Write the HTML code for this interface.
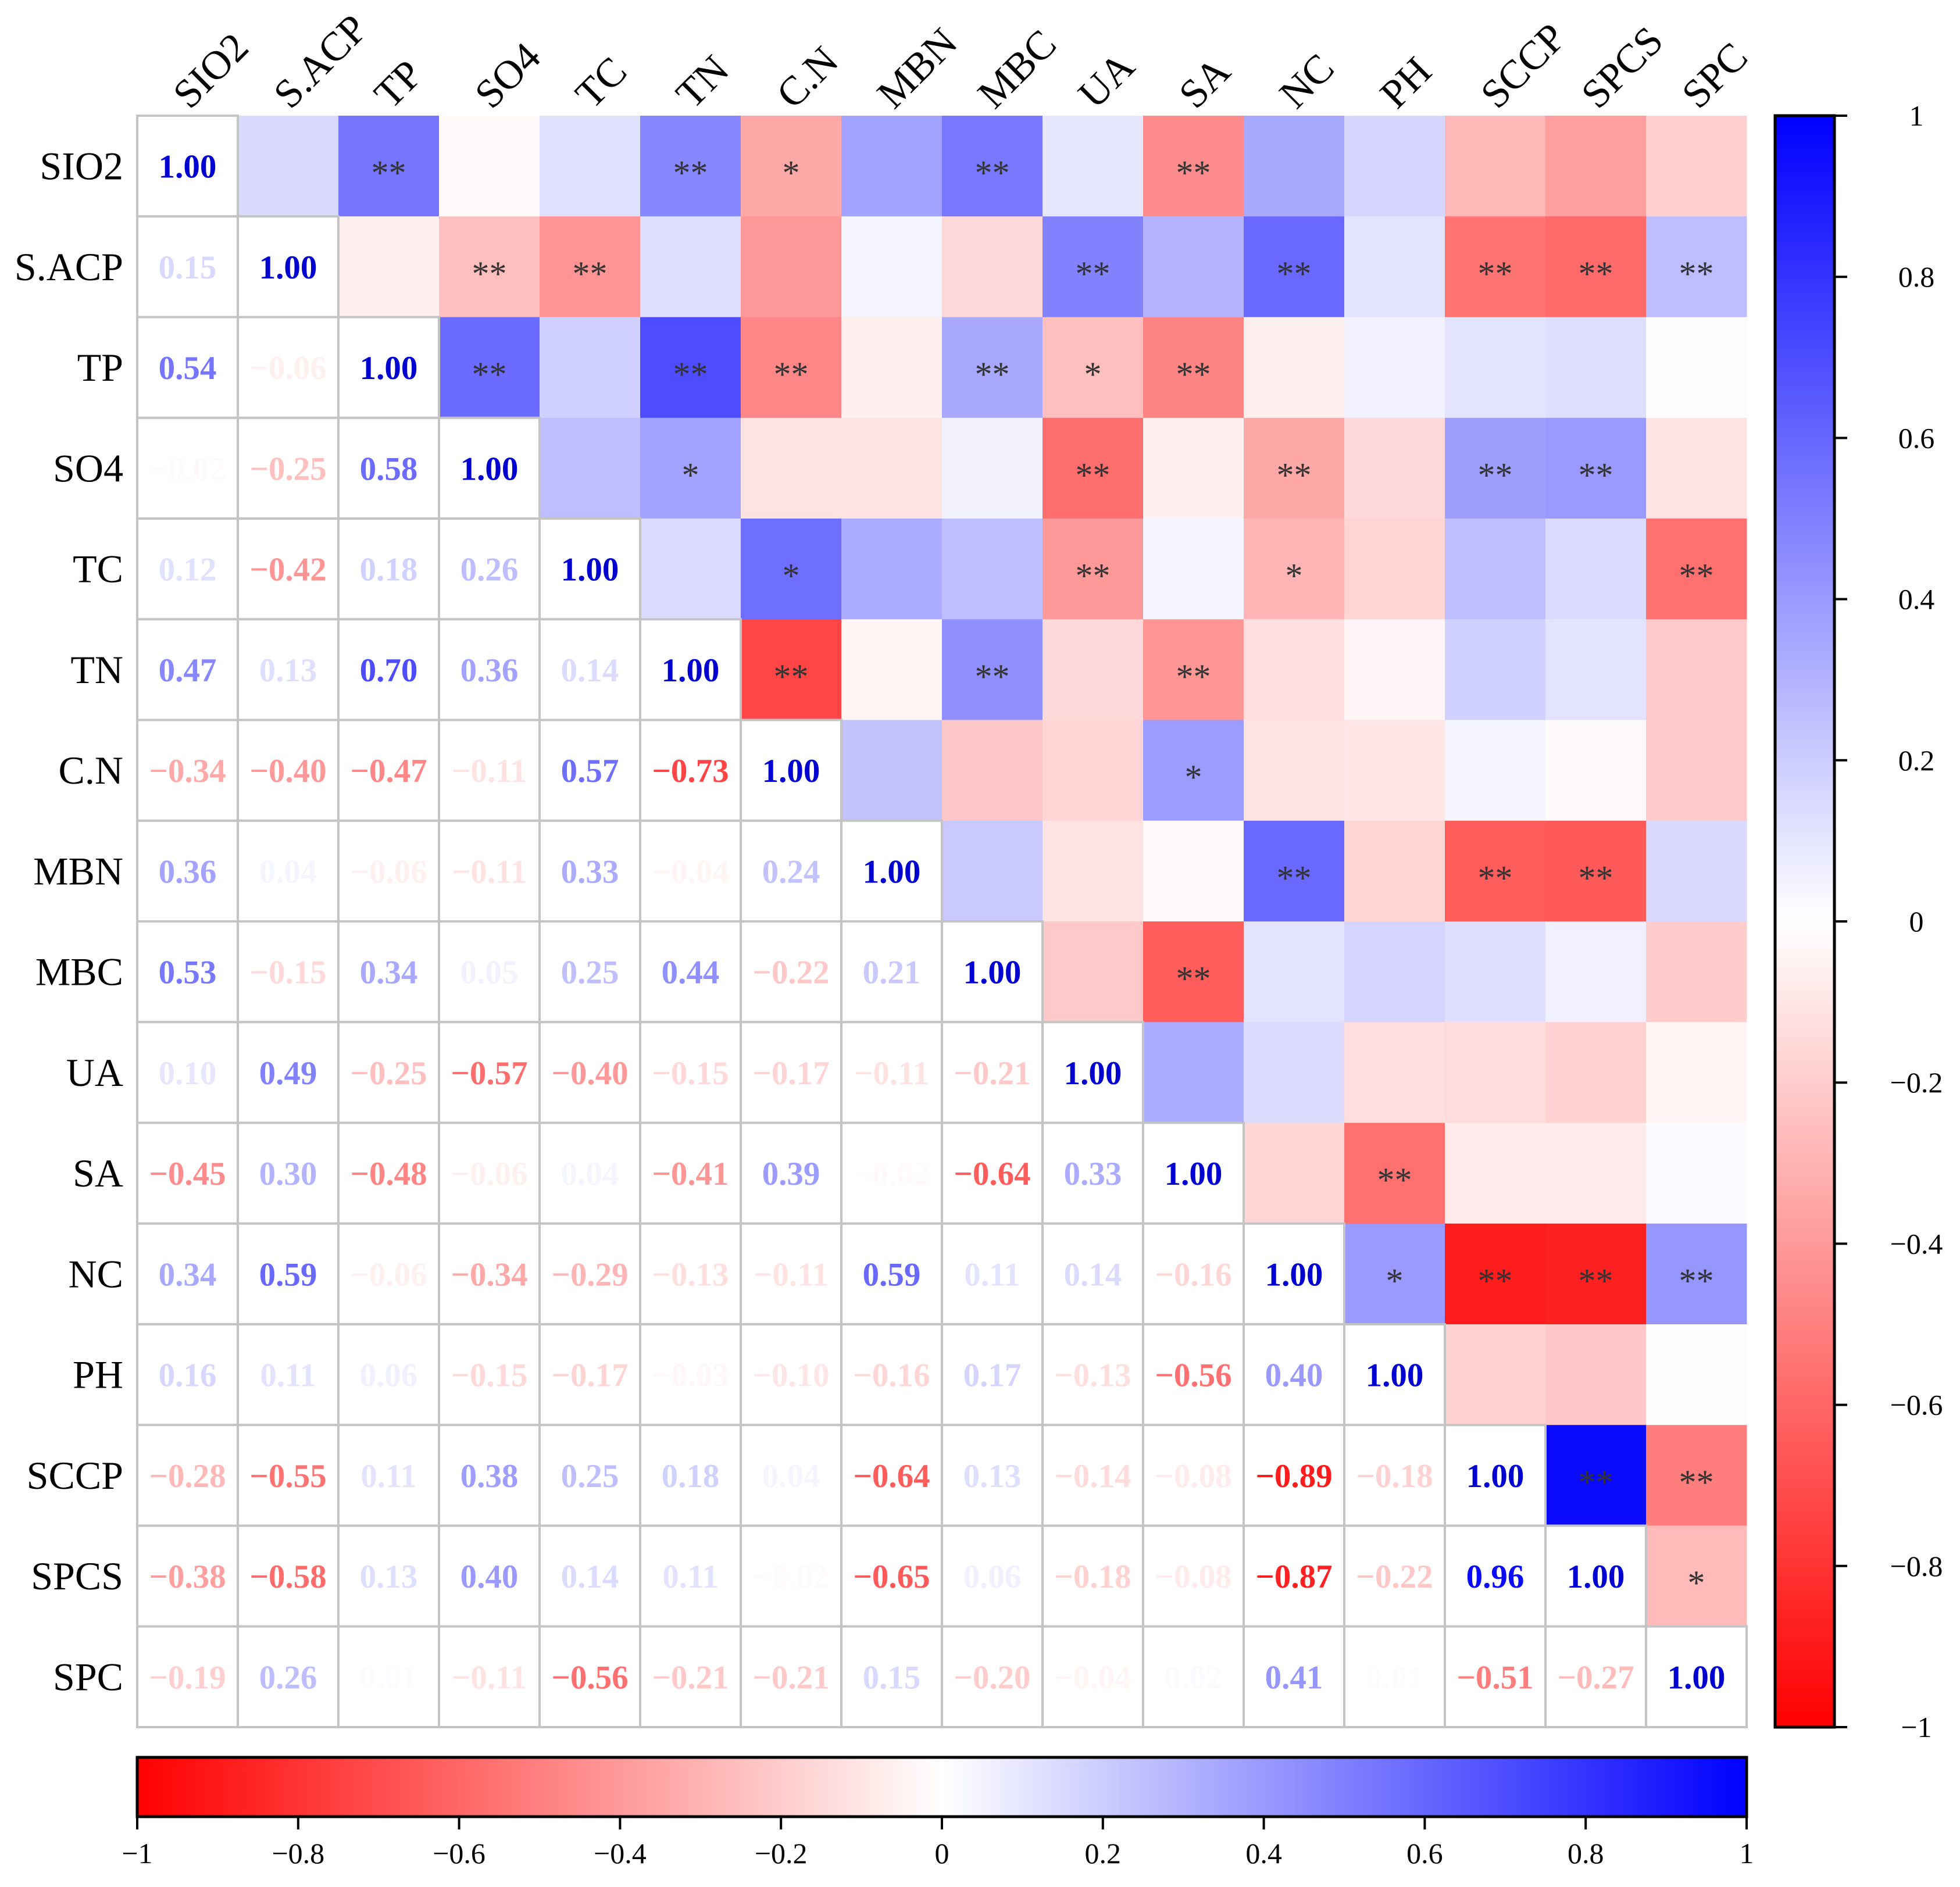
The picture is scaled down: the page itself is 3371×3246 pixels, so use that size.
<!DOCTYPE html>
<html><head><meta charset="utf-8">
<style>
html,body{margin:0;padding:0;background:#fff;}
svg{display:block;}
text{font-family:"Liberation Serif",serif;}
</style></head>
<body>
<svg id="chart" width="3371" height="3246" viewBox="0 0 3371 3246" xmlns="http://www.w3.org/2000/svg">
<defs>
<linearGradient id="gradV" x1="0" y1="1" x2="0" y2="0">
<stop offset="0" stop-color="#ff0000"/><stop offset="0.5" stop-color="#ffffff"/><stop offset="1" stop-color="#0000ff"/>
</linearGradient>
<linearGradient id="gradH" x1="0" y1="0" x2="1" y2="0">
<stop offset="0" stop-color="#ff0000"/><stop offset="0.5" stop-color="#ffffff"/><stop offset="1" stop-color="#0000ff"/>
</linearGradient>
</defs>
<g id="cells"></g>
<g id="labels"></g>
<g id="cbars"></g>
</svg>
<script>
const labels = ["SIO2","S.ACP","TP","SO4","TC","TN","C.N","MBN","MBC","UA","SA","NC","PH","SCCP","SPCS","SPC"];
// lower-triangle correlations (row i, columns 0..i-1)
const lowerRows = [
 [],
 [0.15],
 [0.54,-0.06],
 [-0.02,-0.25,0.58],
 [0.12,-0.42,0.18,0.26],
 [0.47,0.13,0.70,0.36,0.14],
 [-0.34,-0.40,-0.47,-0.11,0.57,-0.73],
 [0.36,0.04,-0.06,-0.11,0.33,-0.04,0.24],
 [0.53,-0.15,0.34,0.05,0.25,0.44,-0.22,0.21],
 [0.10,0.49,-0.25,-0.57,-0.40,-0.15,-0.17,-0.11,-0.21],
 [-0.45,0.30,-0.48,-0.06,0.04,-0.41,0.39,-0.02,-0.64,0.33],
 [0.34,0.59,-0.06,-0.34,-0.29,-0.13,-0.11,0.59,0.11,0.14,-0.16],
 [0.16,0.11,0.06,-0.15,-0.17,-0.03,-0.10,-0.16,0.17,-0.13,-0.56,0.40],
 [-0.28,-0.55,0.11,0.38,0.25,0.18,0.04,-0.64,0.13,-0.14,-0.08,-0.89,-0.18],
 [-0.38,-0.58,0.13,0.40,0.14,0.11,-0.02,-0.65,0.06,-0.18,-0.08,-0.87,-0.22,0.96],
 [-0.19,0.26,0.01,-0.11,-0.56,-0.21,-0.21,0.15,-0.20,-0.04,0.02,0.41,0.01,-0.51,-0.27]
];
// significance stars for upper triangle (row i, columns i+1..15)
const starRows = [
 ["","**","","","**","*","","**","","**","","","","",""],
 ["","**","**","","","","","**","","**","","**","**","**"],
 ["**","","**","**","","**","*","**","","","","",""],
 ["","*","","","","**","","**","","**","**",""],
 ["","*","","","**","","*","","","","**"],
 ["**","","**","","**","","","","",""],
 ["","","","*","","","","",""],
 ["","","","**","","**","**",""],
 ["","**","","","","",""],
 ["","","","","",""],
 ["","**","","",""],
 ["*","**","**","**"],
 ["","",""],
 ["**","**"],
 ["*"],
 []
];
const cbTicks = [-1,-0.8,-0.6,-0.4,-0.2,0,0.2,0.4,0.6,0.8,1];

const NS="http://www.w3.org/2000/svg";
const N=labels.length, X0=236, Y0=199, X1=3004, Y1=2971;
const CW=(X1-X0)/N, CH=(Y1-Y0)/N;
const xPos=j=>X0+j*CW, yPos=i=>Y0+i*CH;
function corr(i,j){ if(i===j) return 1; return i>j?lowerRows[i][j]:lowerRows[j][i]; }
function cmap(v){
  v=Math.max(-1,Math.min(1,v));
  let r,g,b;
  if(v<0){const t=-v;r=255;g=b=Math.round(255*(1-t));}
  else{r=g=Math.round(255*(1-v));b=255;}
  return `rgb(${r},${g},${b})`;
}
function fmt(v){return (v<0?"\u2212":"")+Math.abs(v).toFixed(2);}
function mk(tag,attrs,parent,txt){const e=document.createElementNS(NS,tag);for(const k in attrs)e.setAttribute(k,attrs[k]);if(txt!==undefined)e.textContent=txt;parent.appendChild(e);return e;}

const gc=document.getElementById('cells');
for(let i=0;i<N;i++){
  for(let j=0;j<N;j++){
    const v=corr(i,j);
    const x=xPos(j), y=yPos(i), cx=x+CW/2, cy=y+CH/2;
    if(j>i){
      const r=mk('rect',{x:x,y:y,width:CW+0.5,height:CH+0.5,fill:cmap(v)},gc);
      
      
      const s=starRows[i][j-i-1];
      if(s){
        const t=mk('text',{x:cx,y:cy+32,'text-anchor':'middle','font-size':'60',fill:'#333'},gc,s);
        
        
      }
    }
  }
}
for(let i=0;i<N;i++){
  for(let j=0;j<=i;j++){
    const v=corr(i,j);
    const x=xPos(j), y=yPos(i), cx=x+CW/2, cy=y+CH/2;
    const r=mk('rect',{x:x,y:y,width:CW,height:CH,fill:'#fff',stroke:'#c4c4c4','stroke-width':'4'},gc);
    
    
    const col = i===j ? '#0000d0' : cmap(v);
    const t=mk('text',{x:cx,y:cy+20,'text-anchor':'middle','font-size':'57','font-weight':'bold',fill:col},gc,fmt(v));
    
    
  }
}
const gl=document.getElementById('labels');
for(let i=0;i<N;i++){
  const t=mk('text',{x:212,y:yPos(i)+CH/2+23,'text-anchor':'end','font-size':'68',fill:'#000'},gl,labels[i]);
  
  
  const cx=xPos(i)+CW/2+4, by=190;
  const c=mk('text',{x:cx,y:by,'font-size':'70',fill:'#000',transform:`rotate(-45 ${cx} ${by})`},gl,labels[i]);
  
  
}
// colorbars
const gb=document.getElementById('cbars');
const VX0=3053, VX1=3155;
const vY=v=>Y1-(v+1)/2*(Y1-Y0);
const vb=mk('rect',{x:VX0,y:Y0,width:VX1-VX0,height:Y1-Y0,fill:'url(#gradV)',stroke:'#000','stroke-width':'5'},gb);


const HY0=3023, HY1=3125;
const hX=v=>X0+(v+1)/2*(X1-X0);
const hb=mk('rect',{x:X0,y:HY0,width:X1-X0,height:HY1-HY0,fill:'url(#gradH)',stroke:'#000','stroke-width':'5'},gb);


for(const v of cbTicks){
  const lab=(v<0?"\u2212":"")+String(Math.abs(v));
  const y=vY(v);
  mk('line',{x1:VX1,y1:y,x2:VX1+22,y2:y,stroke:'#000','stroke-width':'4'},gb);
  const t=mk('text',{x:3296,y:y+17,'text-anchor':'middle','font-size':'50',fill:'#000'},gb,lab);
  
  
  const x=hX(v);
  mk('line',{x1:x,y1:HY1,x2:x,y2:HY1+22,stroke:'#000','stroke-width':'4'},gb);
  const h=mk('text',{x:x,y:3205,'text-anchor':'middle','font-size':'50',fill:'#000'},gb,lab);
  
  
}
</script>
</body></html>
